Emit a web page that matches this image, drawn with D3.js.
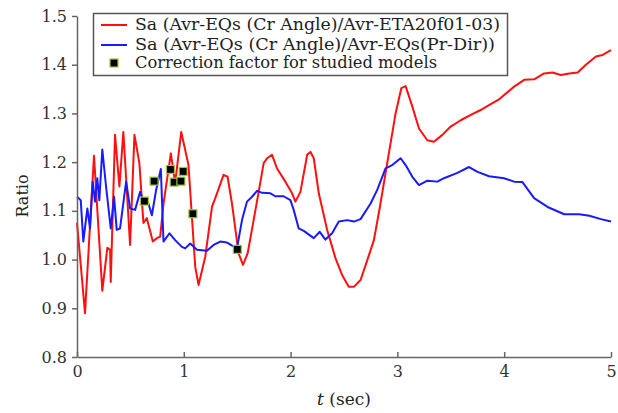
<!DOCTYPE html>
<meta charset="utf-8">
<style>
    body{ margin:0; background:#fff; }
    svg text{ font-family:"DejaVu Serif", "Liberation Serif", serif; }
    .axis path, .axis line{ stroke:#666; stroke-width:1.5; }
    .axis text{ fill:#333; font-size:16px; }
    .lbl{ fill:#222; font-size:16px; }
</style>
<body>
<svg id="graph" width="618" height="413"></svg>
</body>
<script src="https://d3js.org/d3.v7.min.js"></script>
<script>
// red: Sa (Avr-EQs (Cr Angle)/Avr-ETA20f01-03)
var redT = [0.00,0.075,0.159,0.237,0.284,0.310,0.316,0.356,0.397,0.434,0.497,0.538,0.584,0.622,0.654,0.710,0.748,0.779,0.810,0.879,0.919,0.976,1.044,1.107,1.138,1.201,1.264,1.311,1.372,1.410,1.451,1.513,1.554,1.598,1.654,1.701,1.748,1.780,1.826,1.873,1.951,2.014,2.045,2.092,2.155,2.186,2.217,2.264,2.342,2.420,2.483,2.545,2.592,2.655,2.718,2.780,2.836,2.920,2.983,3.037,3.077,3.140,3.202,3.280,3.342,3.421,3.499,3.593,3.687,3.780,3.858,3.952,4.093,4.187,4.280,4.374,4.453,4.531,4.609,4.688,4.765,4.859,4.922,5.000];
var redV = [1.076,0.890,1.213,0.936,1.024,1.020,0.954,1.256,1.150,1.262,1.030,1.256,1.198,1.075,1.085,1.037,1.044,1.047,1.115,1.218,1.157,1.262,1.194,0.985,0.948,1.006,1.108,1.136,1.174,1.170,1.115,1.013,0.989,1.013,1.081,1.139,1.198,1.208,1.215,1.187,1.160,1.136,1.119,1.139,1.215,1.221,1.208,1.136,1.061,1.003,0.968,0.944,0.944,0.958,0.999,1.040,1.108,1.218,1.300,1.352,1.356,1.314,1.269,1.245,1.242,1.256,1.273,1.286,1.297,1.307,1.317,1.329,1.355,1.369,1.370,1.382,1.384,1.379,1.382,1.384,1.400,1.417,1.420,1.430];

// blue: Sa (Avr-EQs (Cr Angle)/Avr-EQs(Pr-Dir))
var blueT = [0.000,0.035,0.059,0.097,0.122,0.147,0.169,0.190,0.209,0.237,0.272,0.316,0.347,0.372,0.403,0.460,0.497,0.544,0.591,0.629,0.669,0.701,0.741,0.785,0.810,0.866,0.919,0.982,1.013,1.060,1.123,1.217,1.279,1.341,1.404,1.498,1.545,1.592,1.639,1.686,1.733,1.811,1.857,1.935,1.998,2.029,2.076,2.123,2.217,2.273,2.326,2.389,2.451,2.530,2.592,2.655,2.749,2.811,2.889,2.952,3.030,3.077,3.140,3.202,3.280,3.374,3.436,3.562,3.671,3.750,3.858,3.999,4.093,4.171,4.280,4.406,4.562,4.703,4.797,4.906,5.000];
var blueV = [1.129,1.122,1.037,1.105,1.064,1.160,1.119,1.167,1.122,1.226,1.150,1.064,1.129,1.061,1.064,1.160,1.105,1.102,1.139,1.115,1.115,1.091,1.143,1.186,1.037,1.054,1.040,1.026,1.023,1.033,1.020,1.018,1.030,1.037,1.035,1.023,1.081,1.119,1.129,1.141,1.137,1.136,1.130,1.130,1.122,1.102,1.064,1.059,1.044,1.057,1.041,1.054,1.078,1.081,1.078,1.083,1.115,1.143,1.187,1.194,1.208,1.194,1.170,1.153,1.162,1.160,1.167,1.178,1.190,1.180,1.171,1.167,1.160,1.159,1.126,1.108,1.093,1.093,1.090,1.083,1.078];

// correction factor for studied models
var corrT = [0.631,0.722,0.875,0.910,0.973,0.994,1.085,1.501];
var corrV = [1.120,1.161,1.185,1.159,1.161,1.181,1.094,1.021];

var xTicks = [0,1,2,3,4,5];
var yTicks = [0.8,0.9,1.0,1.1,1.2,1.3,1.4,1.5];
var legendNames = ["Sa (Avr-EQs (Cr Angle)/Avr-ETA20f01-03)",
                   "Sa (Avr-EQs (Cr Angle)/Avr-EQs(Pr-Dir))",
                   "Correction factor for studied models"];
var legendWidths = [365, 360, 302];

var svg = d3.select("#graph");

var x = d3.scaleLinear().domain([0,5]).range([77,611]);
var y = d3.scaleLinear().domain([0.8,1.5]).range([357,16]);

function zip(a, b){ return a.map(function(d,i){ return [d, b[i]]; }); }

var line = d3.line()
    .x(function(d){ return x(d[0]); })
    .y(function(d){ return y(d[1]); });

svg.append("path")
    .attr("d", line(zip(redT, redV)))
    .attr("fill","none").attr("stroke","#ff1010").attr("stroke-width",2)
    .attr("stroke-linejoin","round");

svg.append("path")
    .attr("d", line(zip(blueT, blueV)))
    .attr("fill","none").attr("stroke","#1a1aff").attr("stroke-width",2)
    .attr("stroke-linejoin","round");

svg.selectAll("rect.mk")
    .data(zip(corrT, corrV))
    .enter().append("rect")
        .attr("class","mk")
        .attr("x", function(d){ return x(d[0]) - 4; })
        .attr("y", function(d){ return y(d[1]) - 4; })
        .attr("width", 8).attr("height", 8)
        .attr("fill","#000").attr("stroke","#9cc83c").attr("stroke-width",1.2);

// axes
svg.append("g")
    .attr("class","axis")
    .attr("transform","translate(77,0)")
    .call(d3.axisLeft(y).tickValues(yTicks).tickFormat(d3.format(".1f"))
        .tickSizeInner(5).tickSizeOuter(0).tickPadding(5));

svg.append("g")
    .attr("class","axis")
    .attr("transform","translate(0,357)")
    .call(d3.axisBottom(x).tickValues(xTicks).tickFormat(d3.format("d"))
        .tickSizeInner(-5).tickSizeOuter(0).tickPadding(9));

svg.append("text")
    .attr("class","lbl")
    .attr("transform","translate(28,196) rotate(-90)")
    .attr("text-anchor","middle")
    .text("Ratio");

var xl = svg.append("text")
    .attr("class","lbl")
    .attr("x",344).attr("y",405)
    .attr("text-anchor","middle")
    .style("font-size","17px");
xl.append("tspan").attr("font-style","italic").text("t");
xl.append("tspan").text(" (sec)");

// legend
var lg = svg.append("g");
lg.append("rect")
    .attr("x",93.5).attr("y",13.5).attr("width",414).attr("height",62)
    .attr("fill","#fff").attr("stroke","#555").attr("stroke-width",1.5);

var legY = [25, 45, 63];
lg.append("line").attr("x1",101).attr("x2",127).attr("y1",legY[0]).attr("y2",legY[0])
    .attr("stroke","#ff1010").attr("stroke-width",2);
lg.append("line").attr("x1",101).attr("x2",127).attr("y1",legY[1]).attr("y2",legY[1])
    .attr("stroke","#1a1aff").attr("stroke-width",2);
lg.append("rect").attr("x",110).attr("y",legY[2]-4).attr("width",8).attr("height",8)
    .attr("fill","#000").attr("stroke","#9cc83c").attr("stroke-width",1.2);

lg.selectAll("text.leg")
    .data(legendNames)
    .enter().append("text")
        .attr("class","lbl leg")
        .attr("x",135)
        .attr("y", function(d,i){ return legY[i] + 5; })
        .attr("textLength", function(d,i){ return legendWidths[i]; })
        .attr("lengthAdjust","spacingAndGlyphs")
        .text(function(d){ return d; });
</script>
